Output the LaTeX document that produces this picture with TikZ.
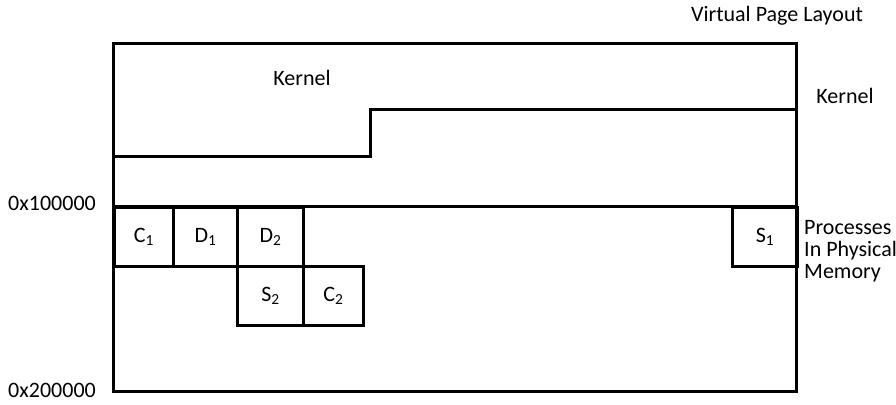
\documentclass[tikz,border=0pt]{standalone}
\usepackage{fontspec}
\setmainfont{Carlito}
\begin{document}
\begin{tikzpicture}[x=1pt,y=-1pt,
  wall/.style={line width=3pt,line join=miter,line cap=rect},
  lbl/.style={font=\fontsize{22}{24}\selectfont,inner sep=0pt},
  cell/.style={draw,line width=3pt,minimum width=#1,minimum height=59pt,inner sep=0pt,font=\fontsize{22}{24}\selectfont,anchor=north west}]
\useasboundingbox (0,0) rectangle (896,404);
% outer frame and dividing lines
\coordinate (tl) at (113,44);
\coordinate (br) at (796,391);
\draw[wall] (tl) rectangle (br);
\coordinate (kl) at (113,156);
\coordinate (ks1) at (370,156);
\coordinate (ks2) at (370,109);
\coordinate (kr) at (796,109);
\draw[wall] (kl) -- (ks1) -- (ks2) -- (kr);
\coordinate (pl) at (113,206);
\coordinate (pr) at (796,206);
\draw[wall] (pl) -- (pr);
% process cells
\node[cell=59pt] (c1) at (113,206) {C\textsubscript{1}};
\node[cell=64pt] (d1) at (172,206) {D\textsubscript{1}};
\node[cell=66pt] (d2) at (236,206) {D\textsubscript{2}};
\node[cell=66pt] (s2) at (236,265) {S\textsubscript{2}};
\node[cell=60pt] (c2) at (302,265) {C\textsubscript{2}};
\node[cell=65pt] (s1) at (731,206) {S\textsubscript{1}};
% labels
\node[lbl] (kern) at (302,78) {Kernel};
\node[lbl] (vpl) at (777,16) {Virtual Page Layout};
\node[lbl] (kern2) at (845,96) {Kernel};
\node[lbl] (a1) at (52,203) {0x100000};
\node[lbl] (a2) at (52,390) {0x200000};
\node[lbl,anchor=north west,align=left,font=\fontsize{22}{22}\selectfont] (proc) at (804,220) {Processes\\In Physical\\Memory};
\end{tikzpicture}
\end{document}
